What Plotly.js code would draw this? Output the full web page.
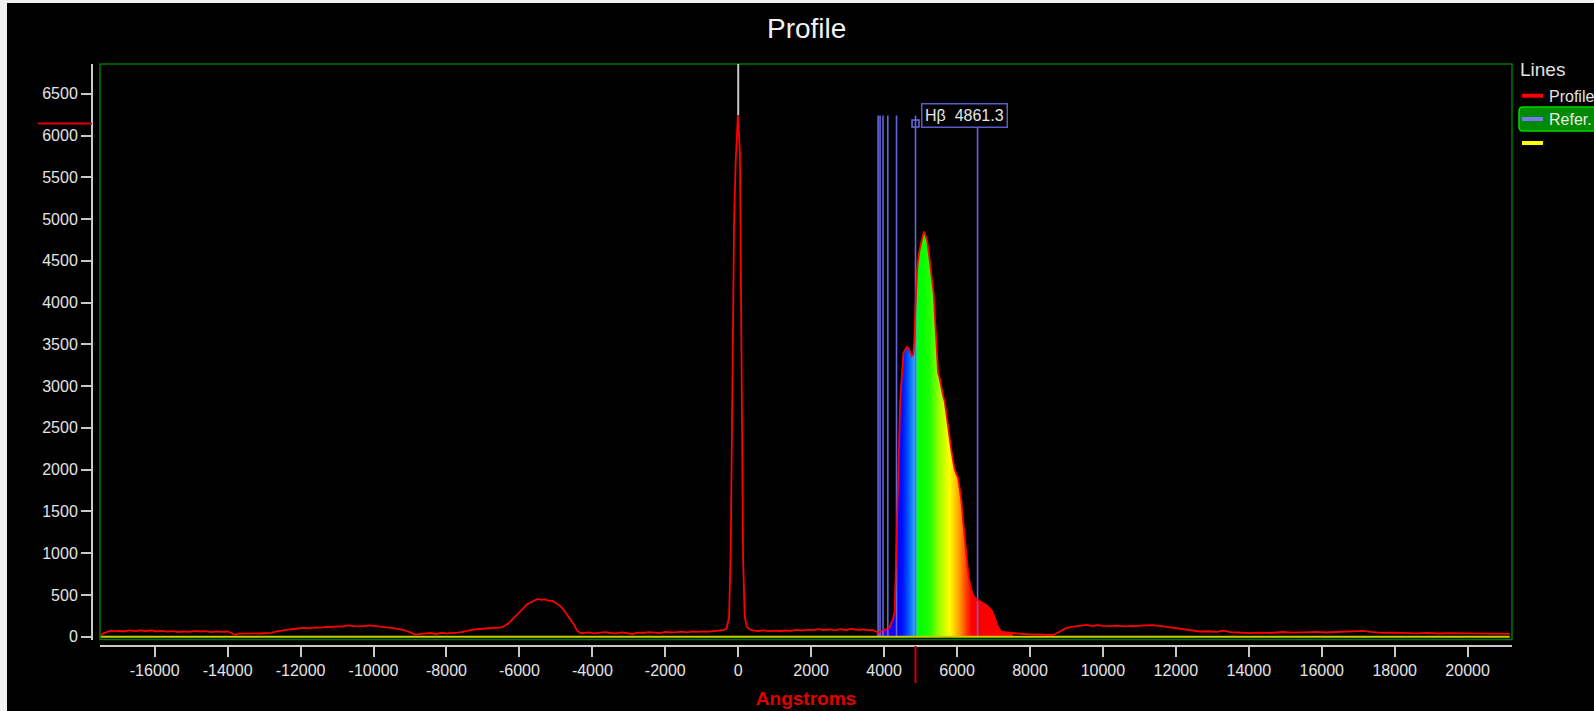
<!DOCTYPE html>
<html><head><meta charset="utf-8">
<script src="https://cdn.plot.ly/plotly-3.0.1.min.js"></script>
<style>
html,body{margin:0;padding:0;background:#f0f0f0;overflow:hidden;width:1594px;height:711px}
#chart{position:absolute;left:7px;top:3px;width:1587px;height:708px;background:#000}
</style></head><body><div id="chart"></div>
<script>
// ---------------- DATA ----------------
const profileX = [
-17500,-17420,-17300,-17200,-17100,-17000,-16850,-16700,-16550,-16400,-16250,-16100,-15950,-15800,-15650,-15500,-15350,-15200,-15050,-14900,
-14750,-14600,-14450,-14300,-14150,-14000,-13900,-13800,-13700,-13550,-13400,-13250,-13100,-12950,-12800,-12650,-12500,-12350,-12200,-12050,
-11900,-11750,-11600,-11450,-11300,-11150,-11000,-10850,-10700,-10550,-10400,-10250,-10100,-9950,-9800,-9650,-9500,-9350,-9200,-9050,
-8950,-8850,-8750,-8600,-8450,-8300,-8150,-8000,-7850,-7700,-7550,-7400,-7250,-7100,-6950,-6800,-6650,-6500,-6400,-6300,
-6200,-6100,-6000,-5900,-5800,-5700,-5600,-5500,-5400,-5300,-5200,-5100,-5000,-4900,-4800,-4700,-4600,-4500,-4420,-4350,
-4250,-4100,-3950,-3800,-3650,-3500,-3350,-3200,-3050,-2900,-2750,-2600,-2450,-2300,-2150,-2000,-1850,-1700,-1550,-1400,
-1250,-1100,-950,-800,-650,-500,-400,-320,-250,-205,-159,-113,-68,-8,47,88,134,179,238,300,
400,550,700,850,1000,1150,1300,1450,1600,1750,1900,2050,2200,2350,2500,2650,2800,2950,3100,3250,
3400,3550,3700,3800,3850,3950,4050,4150,4200,4250,4290,4315,4350,4400,4440,4480,4530,4580,4630,4680,
4720,4760,4800,4830,4850,4880,4910,4960,5010,5060,5100,5140,5180,5230,5270,5320,5360,5400,5440,5480,
5520,5570,5620,5660,5710,5750,5800,5840,5890,5930,5980,6030,6070,6115,6160,6206,6250,6297,6340,6389,
6440,6481,6540,6618,6700,6801,6870,6939,6990,7030,7080,7120,7170,7213,7300,7400,7532,7650,7800,7898,
8000,8200,8400,8629,8800,8996,9200,9400,9545,9700,9850,10000,10200,10400,10600,10800,10916,11100,11371,11600,
11829,12000,12195,12400,12652,12900,13100,13291,13500,13700,14023,14300,14600,14937,15200,15500,15853,16100,16400,16700,
17132,17400,17680,18000,18300,18595,18900,19200,19500,19967,20300,20600,20900,21155
];
const profileY = [
0,38,58,72,64,70,62,74,66,76,68,74,62,70,60,66,56,64,58,70,
62,66,54,64,58,62,44,22,36,40,36,40,38,42,46,62,74,80,92,98,
104,100,112,108,118,114,124,120,136,126,122,128,134,126,122,112,104,94,82,62,
40,24,30,38,44,32,46,40,42,48,56,74,86,92,96,100,104,112,130,160,
205,245,290,335,385,412,430,452,440,446,432,428,405,375,330,270,205,140,75,48,
42,52,40,48,54,44,40,52,46,32,48,44,54,50,42,56,50,54,60,52,
62,58,64,60,68,72,78,95,235,1061,3378,4985,5705,6247,5788,3241,923,235,120,88,
74,68,76,66,72,68,74,70,80,72,84,78,90,80,86,76,90,80,94,82,
88,80,78,56,48,74,88,112,160,220,300,720,1600,2350,2800,3080,3400,3440,3470,3445,
3410,3360,3380,3560,3850,4200,4420,4600,4720,4800,4850,4800,4740,4580,4450,4250,4100,3780,3400,3160,
3100,2980,2880,2820,2650,2500,2360,2240,2110,2010,1950,1900,1780,1640,1420,1200,980,800,660,560,
500,470,445,430,405,380,350,320,280,240,170,120,80,60,55,48,45,38,35,30,
28,26,24,20,55,105,120,135,140,130,138,128,125,132,122,130,126,135,138,125,
112,102,88,78,62,65,58,72,55,50,42,48,44,56,48,52,58,50,55,60,
70,55,45,48,42,40,45,38,42,40,36,40,35,34
];

const refNames = ['Hη','Hζ','Hε','Hδ','Hγ','Hβ','Hα'];
const refWavelengths = [3835.4, 3889.0, 3970.1, 4101.7, 4340.5, 4861.3, 6562.8];
const refTop = 6240;

const cursorX = 4861.3;
const cursorY = 6145;
const cursorLabel = 'Hβ\u00a0 4861.3';

const spectrumStart = 3800;
const spectrumEnd = 7600;
const spectrumStops  = [3800, 4100, 4350, 4500, 4650, 4800, 4870, 4890, 5000, 5250, 5450, 5650, 5800, 5950, 6100, 6250, 6400, 7600];
const spectrumColors = ['#5a00c0','#3000f0','#0000ff','#0010ff','#0050ff','#1c98ff','#50b8ff','#00ff30','#00ff00','#20ff00','#80ff00','#d0ff00','#ffff00','#ffc800','#ff8c00','#ff4000','#ff0000','#ff0000'];

const xTickVals = [-16000,-14000,-12000,-10000,-8000,-6000,-4000,-2000,0,2000,4000,6000,8000,10000,12000,14000,16000,18000,20000];
const xTickText = ['-16000','-14000','-12000','-10000','-8000','-6000','-4000','-2000','0','2000','4000','6000','8000','10000','12000','14000','16000','18000','20000'];
const yTickVals = [0,500,1000,1500,2000,2500,3000,3500,4000,4500,5000,5500,6000,6500];
const yTickText = ['0','500','1000','1500','2000','2500','3000','3500','4000','4500','5000','5500','6000','6500'];

const chartTitle = 'Profile';
const xTitle = 'Angstroms';
const legendTitle = 'Lines';
const legendLabels = ['Profile', 'Refer.', ''];
const seriesColors = ['#ff0000', '#7878ff', '#ffff00'];

// ---------------- LAYOUT HELPERS ----------------
const W = 1587, H = 708;
const M = {l: 85, r: 82, t: 61, b: 65};
const PW = W - M.l - M.r, PH = H - M.t - M.b;
const px = x => (x - M.l) / PW;      // div px -> paper x
const py = y => (H - M.b - y) / PH;  // div px -> paper y
const FONT = 'Arial, "Liberation Sans", sans-serif';
const xRange = [-17500, 21217];
const yRange = [-34, 6857];

// ---------------- TRACES ----------------
const specX = [], specY = [];
profileX.forEach((x, i) => { if (x >= spectrumStart && x <= spectrumEnd) { specX.push(x); specY.push(profileY[i]); } });
const colorscale = spectrumStops.map((s, i) => [(s - spectrumStart) / (spectrumEnd - spectrumStart), spectrumColors[i]]);

const refX = [], refY = [];
refWavelengths.forEach(w => { refX.push(w, w, null); refY.push(0, refTop, null); });

const traces = [
  {type: 'scatter', mode: 'lines', x: specX, y: specY, fill: 'tozeroy',
   fillgradient: {type: 'horizontal', start: spectrumStart, stop: spectrumEnd, colorscale: colorscale},
   line: {width: 0, color: 'rgba(0,0,0,0)'}, hoverinfo: 'skip', showlegend: false},
  {type: 'scatter', mode: 'lines', x: refX, y: refY, name: legendLabels[1],
   line: {color: '#6464dc', width: 1.6}, showlegend: false},
  {type: 'scatter', mode: 'lines', x: [profileX[0], profileX[profileX.length - 1]], y: [0, 0], name: legendLabels[2],
   line: {color: '#cccc00', width: 2}, showlegend: false},
  {type: 'scatter', mode: 'lines', x: profileX, y: profileY, name: legendLabels[0],
   line: {color: seriesColors[0], width: 1.8}, showlegend: false},
  {type: 'scatter', mode: 'markers', x: [cursorX], y: [cursorY],
   marker: {symbol: 'square-open', size: 7, color: '#6a6ae0', line: {width: 1.5}}, showlegend: false}
];

// peak from data for the grey marker line
let pk = 0; profileY.forEach((v, i) => { if (v > profileY[pk]) pk = i; });

// ---------------- SHAPES ----------------
const shapes = [
  {type: 'rect', xref: 'x domain', yref: 'y domain', x0: 0, x1: 1, y0: 0, y1: 1,
   line: {color: '#007800', width: 1.5}, layer: 'above'},
  {type: 'line', xref: 'x', yref: 'y', x0: 0, x1: 0, y0: profileY[pk], y1: yRange[1],
   line: {color: '#c8c8c8', width: 2}},
  {type: 'line', xref: 'paper', xsizemode: 'pixel', xanchor: 0, x0: -54, x1: 0,
   yref: 'y', y0: cursorY, y1: cursorY, line: {color: '#e00000', width: 2}},
  {type: 'line', xref: 'x', x0: cursorX, x1: cursorX, yref: 'paper', ysizemode: 'pixel', yanchor: 0, y0: 0, y1: -37,
   line: {color: '#d00000', width: 2}}
];

// legend (manual)
(function () {
  const x0 = 1512, x1 = 1600, y0 = 104, y1 = 128, r = 4;
  const X = v => px(v), Y = v => py(v);
  const path = `M ${X(x0 + r)},${Y(y0)} L ${X(x1 - r)},${Y(y0)} Q ${X(x1)},${Y(y0)} ${X(x1)},${Y(y0 + r)} ` +
    `L ${X(x1)},${Y(y1 - r)} Q ${X(x1)},${Y(y1)} ${X(x1 - r)},${Y(y1)} L ${X(x0 + r)},${Y(y1)} ` +
    `Q ${X(x0)},${Y(y1)} ${X(x0)},${Y(y1 - r)} L ${X(x0)},${Y(y0 + r)} Q ${X(x0)},${Y(y0)} ${X(x0 + r)},${Y(y0)} Z`;
  shapes.push({type: 'path', xref: 'paper', yref: 'paper', path: path,
    fillcolor: '#008a00', line: {color: '#00d800', width: 1.5}});
})();
[92.7, 116, 140].forEach((yy, i) => {
  shapes.push({type: 'line', xref: 'paper', yref: 'paper', x0: px(1515), x1: px(1536), y0: py(yy), y1: py(yy),
    line: {color: seriesColors[i], width: 4}});
});

// ---------------- ANNOTATIONS ----------------
const annotations = [
  {xref: 'x', yref: 'y', x: cursorX, y: cursorY, xanchor: 'left', yanchor: 'middle', xshift: 5.5, yshift: 8,
   showarrow: false, text: cursorLabel, font: {family: FONT, size: 16, color: '#e6e6e6'},
   bgcolor: '#000', bordercolor: '#5a5ac8', borderwidth: 1.5, borderpad: 2.5},
  {xref: 'paper', yref: 'paper', x: px(1511), y: py(66.5), xanchor: 'left', yanchor: 'middle', showarrow: false,
   text: legendTitle, font: {family: FONT, size: 19, color: '#e0e0e0'}},
  {xref: 'paper', yref: 'paper', x: px(1540), y: py(93), xanchor: 'left', yanchor: 'middle', showarrow: false,
   text: legendLabels[0], font: {family: FONT, size: 16, color: '#e4e4e4'}},
  {xref: 'paper', yref: 'paper', x: px(1540), y: py(116), xanchor: 'left', yanchor: 'middle', showarrow: false,
   text: legendLabels[1], font: {family: FONT, size: 16, color: '#ececec'}}
];

const axisCommon = {
  showgrid: false, zeroline: false, showline: true, linecolor: '#c8c8c8', linewidth: 2,
  ticks: 'outside', ticklen: 10, tickwidth: 2, tickcolor: '#c8c8c8',
  tickfont: {family: FONT, size: 16, color: '#e4e4e4'}, fixedrange: true
};

const layout = {
  width: W, height: H,
  paper_bgcolor: '#000', plot_bgcolor: '#000',
  margin: M,
  showlegend: false,
  title: {text: chartTitle, font: {family: FONT, size: 28, color: '#f2f2f2'},
          xref: 'container', x: 799.7 / W, xanchor: 'center', yref: 'container', y: 1 - 25 / H, yanchor: 'middle'},
  xaxis: Object.assign({}, axisCommon, {
    range: xRange, domain: [8 / PW, 1], anchor: 'free', position: 0,
    tickmode: 'array', tickvals: xTickVals, ticktext: xTickText,
    title: {text: xTitle, standoff: 12, font: {family: FONT, size: 19, color: '#e00000', weight: 'bold'}}
  }),
  yaxis: Object.assign({}, axisCommon, {
    range: yRange, domain: [6.5 / PH, 1], anchor: 'free', position: 0,
    tickmode: 'array', tickvals: yTickVals, ticktext: yTickText
  }),
  shapes: shapes,
  annotations: annotations
};

Plotly.newPlot('chart', traces, layout, {displayModeBar: false, staticPlot: true});
</script></body></html>
